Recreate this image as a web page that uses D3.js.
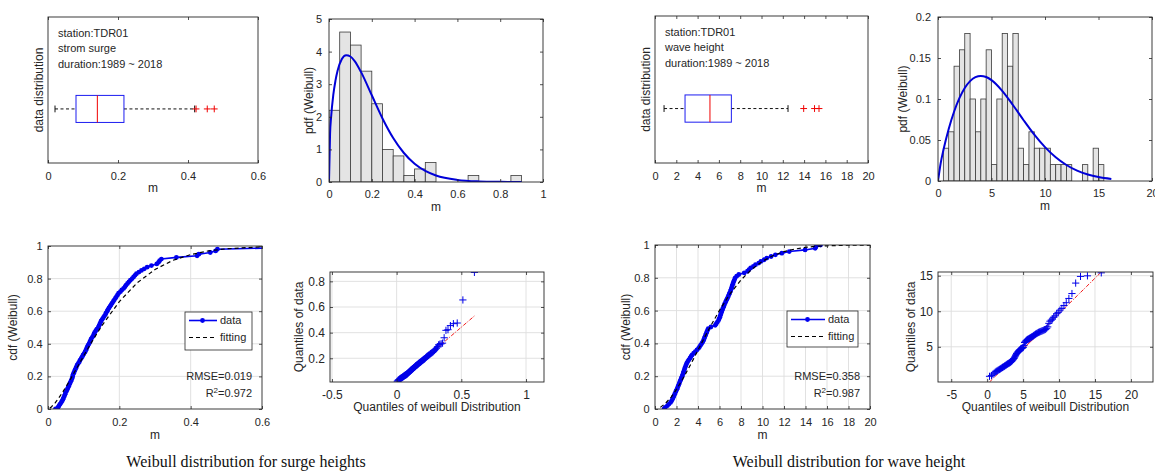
<!DOCTYPE html>
<html>
<head>
<meta charset="utf-8">
<script src="https://cdn.jsdelivr.net/npm/d3@7"></script>
<style>
  html, body { margin: 0; padding: 0; background: #fff; overflow: hidden; }
  svg text { font-family: "Liberation Sans", Arial, Helvetica, sans-serif; fill: #262626; }
  svg text.caption { font-family: "Liberation Serif", "DejaVu Serif", serif; fill: #111; }
</style>
</head>
<body>
<script>
// ===================== data =====================

// storm surge sample, sorted (m)
const surgeSorted = [
  0.021,0.028,0.031,0.034,0.037,0.040,0.042,0.044,0.046,0.048,0.049,
  0.052,0.054,0.056,0.058,0.060,0.062,0.064,0.066,0.068,0.069,0.070,0.072,0.074,0.076,0.078,0.080,0.082,0.085,0.088,0.090,0.093,0.096,0.098,
  0.101,0.104,0.106,0.108,0.110,0.112,0.115,0.117,0.119,0.121,0.124,0.127,0.129,0.131,0.134,0.137,0.141,0.143,0.145,0.147,0.149,
  0.152,0.155,0.158,0.161,0.163,0.166,0.168,0.171,0.174,0.177,0.180,0.183,0.186,0.189,0.192,0.195,0.198,
  0.203,0.207,0.212,0.216,0.219,0.223,0.227,0.231,0.236,0.240,0.244,0.248,
  0.255,0.262,0.270,0.278,0.290,
  0.305,0.310,0.313,0.318,
  0.360,
  0.418,0.423,
  0.455,0.470,0.475,
  0.655,0.870
];

// box plot summary of surge: [lower whisker, q1, median, q3, upper whisker]
const surgeBox = [0.020, 0.080, 0.141, 0.217, 0.419];
const surgeOutliers = [0.423, 0.455, 0.475];

// surge histogram (pdf-normalised)
const surgeHistEdges = [0,0.05,0.1,0.15,0.2,0.25,0.3,0.35,0.4,0.45,0.5,0.55,0.6,0.65,0.7,0.75,0.8,0.85,0.9];
const surgeHistDensity = [2.2,4.6,4.2,3.4,2.4,1.0,0.8,0.2,0.4,0.6,0,0,0,0.2,0,0,0,0.2];

// fitted Weibull pdf for surge
const surgePdfX = [0,0.005,0.01,0.02,0.03,0.04,0.06,0.08,0.1,0.12,0.15,0.2,0.25,0.3,0.35,0.4,0.45,0.5,0.6,0.7,0.8,0.9];
const surgePdfY = [0,1.48,2.00,2.67,3.10,3.41,3.77,3.89,3.85,3.71,3.37,2.66,1.95,1.35,0.89,0.56,0.34,0.20,0.064,0.018,0.005,0.001];

// fitted Weibull cdf for surge
const surgeFitX = [0.005,0.01,0.02,0.03,0.04,0.06,0.08,0.1,0.12,0.15,0.2,0.25,0.3,0.35,0.4,0.45,0.5,0.6,0.7];
const surgeFitY = [0.005,0.014,0.038,0.067,0.099,0.171,0.248,0.326,0.402,0.508,0.659,0.774,0.856,0.912,0.947,0.970,0.983,0.995,0.999];

// theoretical Weibull quantiles paired with surgeSorted
const surgeQqX = [
  0.0049,0.0105,0.0149,0.0189,0.0226,0.0260,0.0293,0.0324,0.0355,0.0385,
  0.0414,0.0442,0.0470,0.0498,0.0525,0.0552,0.0578,0.0605,0.0631,0.0657,
  0.0683,0.0709,0.0734,0.0760,0.0785,0.0811,0.0836,0.0861,0.0887,0.0912,
  0.0938,0.0963,0.0989,0.1015,0.1041,0.1067,0.1093,0.1119,0.1145,0.1171,
  0.1198,0.1225,0.1252,0.1279,0.1306,0.1334,0.1362,0.1390,0.1418,0.1446,
  0.1476,0.1505,0.1534,0.1564,0.1594,0.1625,0.1656,0.1688,0.1720,0.1752,
  0.1785,0.1819,0.1853,0.1888,0.1923,0.1959,0.1996,0.2034,0.2072,0.2111,
  0.2151,0.2192,0.2235,0.2278,0.2323,0.2369,0.2416,0.2465,0.2515,0.2567,
  0.2622,0.2678,0.2737,0.2798,0.2863,0.2931,0.3002,0.3078,0.3159,0.3245,
  0.3338,0.3440,0.3550,0.3673,0.3812,0.3970,0.4157,0.4385,0.4683,0.5120,
  0.6011
];
// reference line: [start, lower quartile, upper quartile, end]
const surgeRefX = [0.005, 0.079, 0.234, 0.601];
const surgeRefY = [0.015, 0.078, 0.212, 0.530];

const surgeStats = { rmse: "0.019", r2: "0.972" };

// wave height sample, sorted (m)
const waveSorted = [
  0.85,0.95,
  1.15,1.30,1.45,
  1.55,1.62,1.70,1.76,1.83,1.90,1.96,
  2.04,2.10,2.16,2.22,2.28,2.34,2.40,2.46,
  2.53,2.58,2.63,2.68,2.73,2.78,2.84,2.90,2.96,
  3.05,3.15,3.25,3.35,3.45,
  3.60,3.75,3.90,
  4.05,4.15,4.25,4.35,4.45,
  4.53,4.58,4.64,4.70,4.76,4.82,4.88,4.95,
  5.20,
  5.60,5.70,5.80,5.90,5.97,
  6.03,6.08,6.13,6.18,6.24,6.30,6.36,6.42,6.47,
  6.55,6.62,6.70,6.77,6.84,6.90,6.96,
  7.03,7.08,7.13,7.18,7.23,7.28,7.34,7.40,7.46,
  7.60,7.80,
  8.30,
  8.60,8.75,8.90,
  9.15,9.35,
  9.65,9.85,
  10.15,10.40,
  10.80,
  11.20,
  11.80,
  12.49,
  13.96,
  14.90,14.98,
  15.40
];

const waveBox = [0.85, 2.82, 5.16, 7.17, 12.49];
const waveOutliers = [13.96, 14.98, 15.40];

const waveHistEdges = [0.5,1,1.5,2,2.5,3,3.5,4,4.5,5,5.5,6,6.5,7,7.5,8,8.5,9,9.5,10,10.5,11,11.5,12,12.5,13,13.5,14,14.5,15,15.5];
const waveHistDensity = [0.04,0.06,0.14,0.16,0.18,0.10,0.06,0.10,0.16,0.02,0.10,0.18,0.14,0.18,0.04,0.02,0.06,0.04,0.04,0.04,0.02,0.02,0.02,0.02,0,0,0.02,0,0.04,0.02];

const wavePdfX = [0,0.25,0.5,1,1.5,2,2.5,3,3.5,4,4.5,5,6,7,8,9,10,11,12,13,14,15,16.2];
const wavePdfY = [0,0.0217,0.0374,0.0635,0.0845,0.1010,0.1134,0.1218,0.1266,0.1282,0.1268,0.1230,0.1100,0.0927,0.0741,0.0565,0.0413,0.0289,0.0195,0.0126,0.0079,0.0048,0.0025];

const waveFitX = [0.5,1,1.5,2,2.5,3,3.5,4,4.5,5,6,7,8,9,10,11,12,13,14,15,16,18,20];
const waveFitY = [0.010,0.036,0.073,0.120,0.174,0.233,0.295,0.359,0.422,0.485,0.602,0.704,0.787,0.852,0.901,0.936,0.960,0.975,0.986,0.992,0.995,0.999,1.000];

const waveQqX = [
  0.329,0.608,0.810,0.979,1.129,1.267,1.394,1.513,1.627,1.735,
  1.841,1.941,2.040,2.135,2.229,2.320,2.410,2.498,2.584,2.670,
  2.754,2.838,2.921,3.002,3.083,3.163,3.243,3.322,3.401,3.479,
  3.557,3.635,3.714,3.791,3.867,3.945,4.022,4.100,4.177,4.255,
  4.332,4.409,4.487,4.565,4.643,4.723,4.802,4.881,4.961,5.042,
  5.123,5.205,5.287,5.369,5.454,5.538,5.623,5.710,5.796,5.884,
  5.973,6.063,6.154,6.247,6.342,6.437,6.534,6.634,6.734,6.836,
  6.941,7.047,7.156,7.267,7.382,7.500,7.620,7.744,7.871,8.003,
  8.138,8.280,8.426,8.577,8.736,8.903,9.077,9.262,9.456,9.665,
  9.887,10.128,10.389,10.678,11.001,11.367,11.796,12.314,12.985,13.951,
  15.875
];
const waveRefX = [0.33, 3.12, 7.44, 15.875];
const waveRefY = [0.05, 2.83, 7.12, 15.52];

const waveStats = { rmse: "0.358", r2: "0.987" };

// tick labels
const surgeBoxTicks = [0, 0.2, 0.4, 0.6];
const surgePdfXTicks = [0, 0.2, 0.4, 0.6, 0.8, 1];
const surgePdfYTicks = [0, 1, 2, 3, 4, 5];
const surgeCdfXTicks = [0, 0.2, 0.4, 0.6];
const cdfYTicks = [0, 0.2, 0.4, 0.6, 0.8, 1];
const surgeQqXTicks = [-0.5, 0, 0.5, 1];
const surgeQqYTicks = [0.2, 0.4, 0.6, 0.8];
const waveBoxTicks = [0, 2, 4, 6, 8, 10, 12, 14, 16, 18, 20];
const wavePdfXTicks = [0, 5, 10, 15, 20];
const wavePdfYTicks = [0, 0.05, 0.1, 0.15, 0.2];
const waveCdfXTicks = [0, 2, 4, 6, 8, 10, 12, 14, 16, 18, 20];
const waveQqXTicks = [-5, 0, 5, 10, 15, 20];
const waveQqYTicks = [5, 10, 15];

// ===================== drawing =====================
const W = 1155, H = 476;
const svg = d3.select("body").append("svg").attr("width", W).attr("height", H);
const defs = svg.append("defs");
const fmt = d => String(d);
const AX = "#262626";
const BLUE = "#0000f0";

let clipN = 0;
function makePanel(b, xd, yd) {
  const id = "clip" + (clipN++);
  defs.append("clipPath").attr("id", id).append("rect")
    .attr("x", b.l).attr("y", b.t).attr("width", b.r - b.l).attr("height", b.b - b.t);
  const root = svg.append("g");
  return {
    b,
    x: d3.scaleLinear().domain(xd).range([b.l, b.r]),
    y: d3.scaleLinear().domain(yd).range([b.b, b.t]),
    grid: root.append("g"),
    data: root.append("g").attr("clip-path", `url(#${id})`),
    axes: root.append("g")
  };
}

function drawAxes(p, o) {
  const b = p.b;
  if (o.grid) {
    p.grid.selectAll(null).data(o.xTicks.filter(v => p.x(v) > b.l + 1 && p.x(v) < b.r - 1)).join("line")
      .attr("x1", d => p.x(d)).attr("x2", d => p.x(d)).attr("y1", b.t).attr("y2", b.b)
      .attr("stroke", "#dedede").attr("stroke-width", 0.9);
    p.grid.selectAll(null).data(o.yTicks.filter(v => p.y(v) > b.t + 1 && p.y(v) < b.b - 1)).join("line")
      .attr("y1", d => p.y(d)).attr("y2", d => p.y(d)).attr("x1", b.l).attr("x2", b.r)
      .attr("stroke", "#dedede").attr("stroke-width", 0.9);
  }
  const style = g => {
    g.select(".domain").remove();
    g.attr("font-size", o.fs).attr("font-family", null).style("color", AX);
    g.selectAll(".tick line").attr("stroke-width", 0.8);
  };
  p.axes.append("g").attr("transform", `translate(0,${b.b})`)
    .call(d3.axisBottom(p.x).tickValues(o.xTicks).tickSize(-3).tickPadding(o.xPad).tickFormat(fmt)).call(style);
  p.axes.append("g").attr("transform", `translate(0,${b.t})`)
    .call(d3.axisTop(p.x).tickValues(o.xTicks).tickSize(-3).tickFormat("")).call(style);
  if (o.yTicks.length) {
    p.axes.append("g").attr("transform", `translate(${b.l},0)`)
      .call(d3.axisLeft(p.y).tickValues(o.yTicks).tickSize(-3).tickPadding(o.yPad).tickFormat(fmt)).call(style);
    p.axes.append("g").attr("transform", `translate(${b.r},0)`)
      .call(d3.axisRight(p.y).tickValues(o.yTicks).tickSize(-3).tickFormat("")).call(style);
  }
  p.axes.append("rect").attr("x", b.l).attr("y", b.t).attr("width", b.r - b.l).attr("height", b.b - b.t)
    .attr("fill", "none").attr("stroke", AX).attr("stroke-width", 0.9);
  // axis titles
  p.axes.append("text").attr("x", (b.l + b.r) / 2).attr("y", b.b + o.xLabDy)
    .attr("text-anchor", "middle").attr("font-size", o.lfs).text(o.xLabel);
  p.axes.append("text")
    .attr("transform", `translate(${o.yLabX},${(b.t + b.b) / 2}) rotate(-90)`)
    .attr("text-anchor", "middle").attr("dy", "0.35em").attr("font-size", o.lfs).text(o.yLabel);
}

function plusPath(s) { return `M${-s},0H${s}M0,${-s}V${s}`; }

function boxPanel(b, box, outliers, ticks, xDomain, lines) {
  const p = makePanel(b, xDomain, [0.5, 1.85]);
  const yc = p.y(1), hh = p.y(1) - p.y(1.125), cap = 3.4;
  const g = p.data;
  g.append("line").attr("x1", p.x(box[0])).attr("x2", p.x(box[1])).attr("y1", yc).attr("y2", yc)
    .attr("stroke", "#111").attr("stroke-dasharray", "3,2.5").attr("stroke-width", 1);
  g.append("line").attr("x1", p.x(box[3])).attr("x2", p.x(box[4])).attr("y1", yc).attr("y2", yc)
    .attr("stroke", "#111").attr("stroke-dasharray", "3,2.5").attr("stroke-width", 1);
  [box[0], box[4]].forEach(v => g.append("line").attr("x1", p.x(v)).attr("x2", p.x(v))
    .attr("y1", yc - cap).attr("y2", yc + cap).attr("stroke", "#111").attr("stroke-width", 1));
  g.append("rect").attr("x", p.x(box[1])).attr("y", yc - hh).attr("width", p.x(box[3]) - p.x(box[1]))
    .attr("height", 2 * hh).attr("fill", "none").attr("stroke", "#1c1cf0").attr("stroke-width", 1);
  g.append("line").attr("x1", p.x(box[2])).attr("x2", p.x(box[2])).attr("y1", yc - hh).attr("y2", yc + hh)
    .attr("stroke", "#f00000").attr("stroke-width", 1);
  g.selectAll(null).data(outliers).join("path")
    .attr("transform", d => `translate(${p.x(d)},${yc})`).attr("d", plusPath(3.4))
    .attr("stroke", "#f00000").attr("stroke-width", 1).attr("fill", "none");
  g.selectAll(null).data(lines).join("text")
    .attr("x", b.l + 10).attr("y", (d, i) => b.t + 16 + i * 15.5).attr("dy", "0.35em")
    .attr("font-size", 11).text(d => d);
  drawAxes(p, { xTicks: ticks, yTicks: [], fs: 11, xPad: 9, lfs: 12, xLabel: "m", xLabDy: 29,
    yLabel: "data distribution", yLabX: b.l - 9 });
}

function pdfPanel(b, edges, dens, cx, cy, xd, yd, xt, yt, yLabX, yPad) {
  const p = makePanel(b, xd, yd);
  p.data.selectAll(null).data(dens).join("rect")
    .attr("x", (d, i) => p.x(edges[i])).attr("width", (d, i) => p.x(edges[i + 1]) - p.x(edges[i]))
    .attr("y", d => p.y(d)).attr("height", d => p.y(0) - p.y(d))
    .attr("fill", "#e4e4e4").attr("stroke", "#3a3a3a").attr("stroke-width", 0.8);
  p.data.append("path").datum(cx.map((v, i) => [v, cy[i]]))
    .attr("d", d3.line().x(d => p.x(d[0])).y(d => p.y(d[1])).curve(d3.curveMonotoneX))
    .attr("fill", "none").attr("stroke", "#0000d8").attr("stroke-width", 2);
  drawAxes(p, { xTicks: xt, yTicks: yt, fs: 11, xPad: 8, yPad: yPad, lfs: 12, xLabel: "m", xLabDy: 29,
    yLabel: "pdf (Weibull)", yLabX: yLabX });
}

function cdfPanel(b, sample, fx, fy, xd, xt, yLabX, legend, stats) {
  const p = makePanel(b, xd, [0, 1]);
  const n = sample.length;
  const pts = sample.map((v, i) => [v, i / (n - 1)]);
  p.data.append("path").datum(pts)
    .attr("d", d3.line().x(d => p.x(d[0])).y(d => p.y(d[1])))
    .attr("fill", "none").attr("stroke", BLUE).attr("stroke-width", 1.6);
  p.data.selectAll(null).data(pts).join("circle")
    .attr("cx", d => p.x(d[0])).attr("cy", d => p.y(d[1])).attr("r", 2.4).attr("fill", BLUE);
  p.data.append("path").datum(fx.map((v, i) => [v, fy[i]]))
    .attr("d", d3.line().x(d => p.x(d[0])).y(d => p.y(d[1])))
    .attr("fill", "none").attr("stroke", "#000").attr("stroke-width", 1.2).attr("stroke-dasharray", "4,3");
  drawAxes(p, { xTicks: xt, yTicks: cdfYTicks, fs: 11, xPad: 9, yPad: 5.5, lfs: 12, xLabel: "m", xLabDy: 30,
    yLabel: "cdf (Weibull)", yLabX: yLabX, grid: true });
  // legend
  const lg = p.axes.append("g");
  lg.append("rect").attr("x", legend.x0).attr("y", legend.y0).attr("width", legend.x1 - legend.x0)
    .attr("height", legend.y1 - legend.y0).attr("fill", "#fff").attr("stroke", AX).attr("stroke-width", 0.8);
  const ly1 = legend.y0 + 8.5, ly2 = legend.y0 + 25.5;
  lg.append("line").attr("x1", legend.x0 + 4).attr("x2", legend.tx - 3).attr("y1", ly1).attr("y2", ly1)
    .attr("stroke", BLUE).attr("stroke-width", 1.6);
  lg.append("circle").attr("cx", (legend.x0 + legend.tx) / 2).attr("cy", ly1).attr("r", 2.4).attr("fill", BLUE);
  lg.append("line").attr("x1", legend.x0 + 4).attr("x2", legend.tx - 3).attr("y1", ly2).attr("y2", ly2)
    .attr("stroke", "#000").attr("stroke-width", 1.2).attr("stroke-dasharray", "4,3");
  lg.append("text").attr("x", legend.tx).attr("y", ly1).attr("dy", "0.35em").attr("font-size", 11).text("data");
  lg.append("text").attr("x", legend.tx).attr("y", ly2).attr("dy", "0.35em").attr("font-size", 11).text("fitting");
  // goodness of fit
  p.axes.append("text").attr("x", b.r - 10).attr("y", b.b - 33).attr("dy", "0.35em")
    .attr("text-anchor", "end").attr("font-size", 11).text("RMSE=" + stats.rmse);
  const r2 = p.axes.append("text").attr("x", b.r - 10).attr("y", b.b - 16).attr("dy", "0.35em")
    .attr("text-anchor", "end").attr("font-size", 11);
  r2.append("tspan").text("R");
  r2.append("tspan").attr("font-size", 8).attr("dy", "-0.45em").text("2");
  r2.append("tspan").attr("dy", "0.3em").text("=" + stats.r2);
}

function qqPanel(b, qx, qy, rx, ry, xd, yd, xt, yt, yLabX) {
  const p = makePanel(b, xd, yd);
  const ln = d3.line().x(d => p.x(d[0])).y(d => p.y(d[1]));
  const seg = (i, j) => [[rx[i], ry[i]], [rx[j], ry[j]]];
  p.data.append("path").datum(seg(1, 2)).attr("d", ln).attr("stroke", "#f00000").attr("stroke-width", 0.9).attr("fill", "none");
  [seg(0, 1), seg(2, 3)].forEach(s => p.data.append("path").datum(s).attr("d", ln)
    .attr("stroke", "#f00000").attr("stroke-width", 0.9).attr("fill", "none").attr("stroke-dasharray", "4,1.5,1,1.5"));
  p.data.selectAll(null).data(qx.map((v, i) => [v, qy[i]])).join("path")
    .attr("transform", d => `translate(${p.x(d[0])},${p.y(d[1])})`).attr("d", plusPath(3.6))
    .attr("stroke", "#0000e8").attr("stroke-width", 1).attr("fill", "none");
  drawAxes(p, { xTicks: xt, yTicks: yt, fs: 12, xPad: 8, yPad: 5, lfs: 12,
    xLabel: "Quantiles of weibull Distribution", xLabDy: 29,
    yLabel: "Quantiles of data", yLabX: yLabX, grid: true });
}

// ---- storm surge (left half) ----
boxPanel({ l: 48, r: 258, t: 17, b: 163 }, surgeBox, surgeOutliers, surgeBoxTicks, [0, 0.6],
  ["station:TDR01", "strom surge", "duration:1989 ~ 2018"]);
pdfPanel({ l: 329, r: 543, t: 19, b: 182 }, surgeHistEdges, surgeHistDensity, surgePdfX, surgePdfY,
  [0, 1], [0, 5], surgePdfXTicks, surgePdfYTicks, 309, 7);
cdfPanel({ l: 48, r: 262, t: 246, b: 409 }, surgeSorted, surgeFitX, surgeFitY, [0, 0.6], surgeCdfXTicks, 13,
  { x0: 185, x1: 252, y0: 312, y1: 350, tx: 220 }, surgeStats);
qqPanel({ l: 330, r: 544, t: 272, b: 382 }, surgeQqX, surgeSorted, surgeRefX, surgeRefY,
  [-0.515, 1.139], [0.015, 0.873], surgeQqXTicks, surgeQqYTicks, 299);

// ---- wave height (right half) ----
boxPanel({ l: 655, r: 868, t: 16, b: 163 }, waveBox, waveOutliers, waveBoxTicks, [0, 20],
  ["station:TDR01", "wave height", "duration:1989 ~ 2018"]);
pdfPanel({ l: 938, r: 1152, t: 17, b: 181 }, waveHistEdges, waveHistDensity, wavePdfX, wavePdfY,
  [0, 20], [0, 0.2], wavePdfXTicks, wavePdfYTicks, 903, 7);
cdfPanel({ l: 655, r: 870, t: 245, b: 409 }, waveSorted, waveFitX, waveFitY, [0, 20], waveCdfXTicks, 626,
  { x0: 787, x1: 858, y0: 311, y1: 347, tx: 828 }, waveStats);
qqPanel({ l: 938, r: 1153, t: 272, b: 382 }, waveQqX, waveSorted, waveRefX, waveRefY,
  [-6.84, 23.07], [0.05, 15.52], waveQqXTicks, waveQqYTicks, 911);

// ---- captions ----
svg.append("text").attr("class", "caption").attr("x", 246).attr("y", 467).attr("text-anchor", "middle")
  .attr("font-size", 16).text("Weibull distribution for surge heights");
svg.append("text").attr("class", "caption").attr("x", 849).attr("y", 467).attr("text-anchor", "middle")
  .attr("font-size", 16).text("Weibull distribution for wave height");
</script>
</body>
</html>
